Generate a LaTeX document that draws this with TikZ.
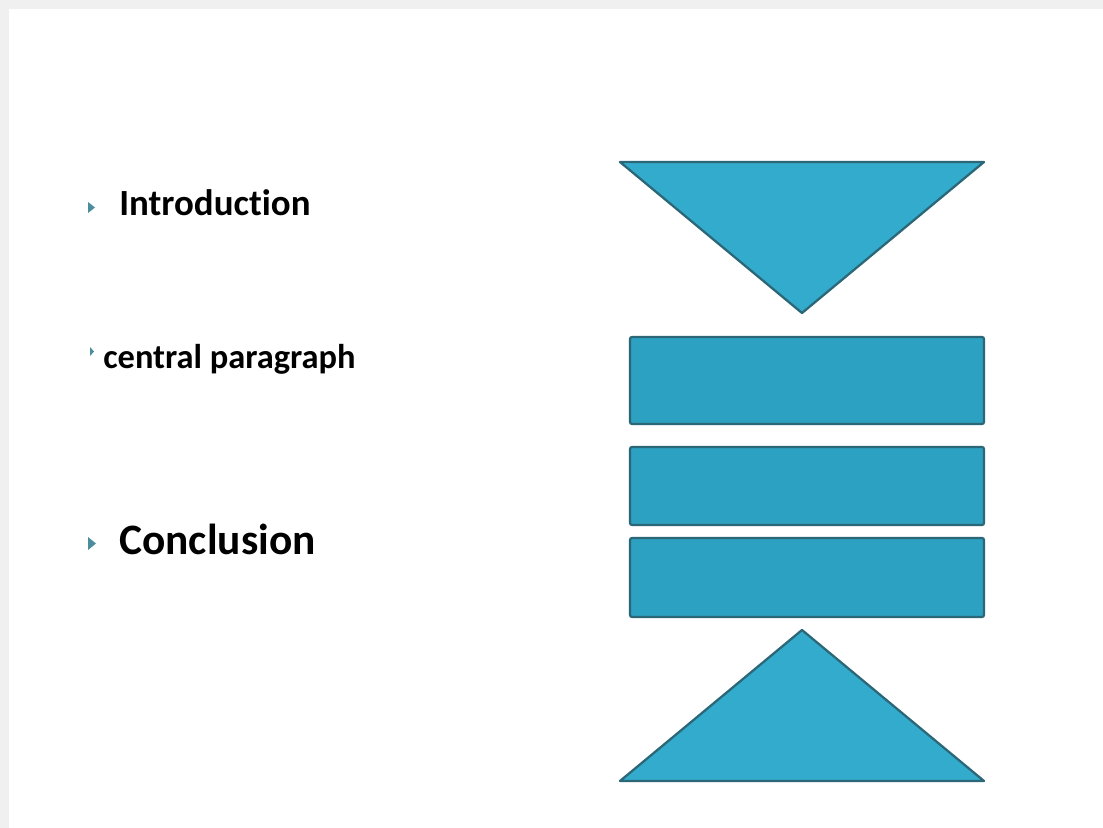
\documentclass[tikz,border=0pt]{standalone}
\usepackage{fontspec}
\setmainfont[Ligatures={NoCommon}]{Carlito}
\usepackage{tikz}
\definecolor{shapefill}{HTML}{33ABCD}
\definecolor{barfill}{HTML}{2CA1C1}
\definecolor{shapeedge}{HTML}{2C6778}
\definecolor{bulletcol}{HTML}{4B8D9C}
\definecolor{pagegray}{HTML}{F0F0F0}
\tikzset{
  funnel/.style={fill=shapefill, draw=shapeedge, line width=1.3pt, line join=round},
  bar/.style={fill=barfill, draw=shapeedge, line width=1.3pt, rounded corners=1.2pt},
  item/.style={anchor=base west, inner sep=0pt, font=\bfseries}
}

\begin{document}
\begin{tikzpicture}[x=0.02cm, y=-0.02cm]
			%%%%% START %%%%%
			
			\useasboundingbox (0, 0) rectangle (1103, 828);
			\fill[pagegray] (0, 0) rectangle (1103, 828);
			\fill[white] (9, 9) rectangle (1103, 828);
			
			\fill[bulletcol] (88, 202) -- (95, 207.5) -- (88, 213) -- cycle;
			\node[item, font=\bfseries\fontsize{21}{25}\selectfont] (intro) at (119, 215) {Introduction};
			
			\fill[bulletcol] (90, 347) -- (94, 351.5) -- (90, 356) -- cycle;
			\node[item, font=\bfseries\fontsize{19.6}{23}\selectfont] (central) at (103, 368) {central paragraph};
			
			\fill[bulletcol] (88, 537) -- (96, 543.5) -- (88, 550) -- cycle;
			\node[item, font=\bfseries\fontsize{24.7}{29}\selectfont] (concl) at (119, 554) {Conclusion};
			
			\draw[funnel] (620, 162) -- (984, 162) -- (802, 313) -- cycle;
			
			\draw[bar] (630, 337) rectangle (984, 424);
			\draw[bar] (630, 447) rectangle (984, 525);
			\draw[bar] (630, 538) rectangle (984, 617);
			
			\draw[funnel] (802, 630) -- (984, 781) -- (620, 781) -- cycle;
			
			%%%%% END %%%%%
\end{tikzpicture}
\end{document}
